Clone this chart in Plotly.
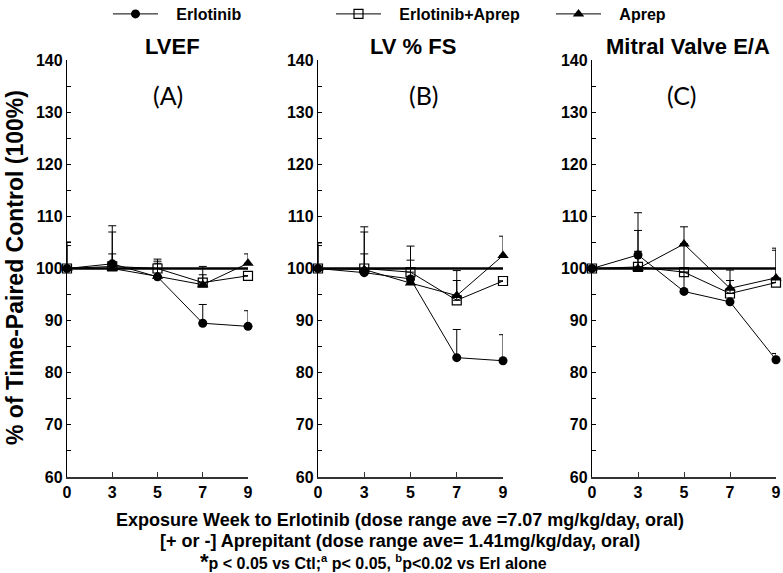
import plotly.graph_objects as go

W, H = 783, 573

weeks = ["0", "3", "5", "7", "9"]
panel_titles = ["LVEF", "LV % FS", "Mitral Valve E/A"]
panel_letters = ["(A)", "(B)", "(C)"]
series_names = ["Erlotinib", "Erlotinib+Aprep", "Aprep"]

# mean values (% of time-paired control)
lvef_erl = [100, 100.9, 98.4, 89.5, 88.9]
lvef_ea = [100, 100.4, 100.0, 97.3, 98.6]
lvef_ap = [100, 100.0, 98.5, 96.9, 101.0]
fs_erl = [100, 99.2, 98.0, 82.9, 82.3]
fs_ea = [100, 100.0, 99.3, 93.9, 97.6]
fs_ap = [100, 99.8, 97.2, 94.8, 102.5]
ea_erl = [100, 102.6, 95.6, 93.6, 82.5]
ea_ea = [100, 100.3, 99.3, 95.2, 97.3]
ea_ap = [100, 100.0, 104.7, 96.2, 98.2]

# upper error-bar ends
lvef_erl_up = [105.1, 108.2, 101.0, 93.1, 91.9]
lvef_ea_up = [104.4, 107.0, 101.8, 98.8, 98.6]
lvef_ap_up = [100, 102.8, 101.4, 100.4, 102.8]
fs_erl_up = [104.9, 108.0, 101.6, 88.3, 87.3]
fs_ea_up = [104.4, 107.0, 104.3, 97.7, 97.6]
fs_ap_up = [100, 102.8, 97.2, 99.6, 106.2]
ea_erl_up = [100, 110.7, 108.0, 93.6, 83.7]
ea_ea_up = [100, 107.3, 99.3, 97.7, 103.5]
ea_ap_up = [100, 103.3, 104.7, 99.7, 103.9]

control = [100, 100, 100, 100, 100]

star_pts = [[3, 4], [3, 4], [4]]
letter_marks = [("b", 4), ("b", 4), ("a", 4)]

panels = [
    (lvef_erl, lvef_ea, lvef_ap, lvef_erl_up, lvef_ea_up, lvef_ap_up),
    (fs_erl, fs_ea, fs_ap, fs_erl_up, fs_ea_up, fs_ap_up),
    (ea_erl, ea_ea, ea_ap, ea_erl_up, ea_ea_up, ea_ap_up),
]

y_ticks = list(range(60, 141, 5))
y_ticktext = [str(v) if v % 10 == 0 else "" for v in y_ticks]


def px(x):
    return x / W


def py(y):
    return 1 - y / H


x_domains = [(67, 248), (318, 503), (592, 776)]
y_dom = (py(477), py(60))
legend_x = [108, 331, 551]
legend_ids = ["legend", "legend2", "legend3"]

ARIAL = "Liberation Sans, Arial, sans-serif"

fig = go.Figure()

symbols = [
    dict(symbol="circle", size=9, color="black"),
    dict(symbol="square-open", size=9, color="black", line=dict(width=1.2, color="black")),
    dict(symbol="triangle-up", size=10, color="black"),
]

PAD = "\u00a0" * 3

for i, p in enumerate(panels):
    xa = "x" if i == 0 else f"x{i+1}"
    ya = "y" if i == 0 else f"y{i+1}"
    means = p[:3]
    ups = p[3:]
    for s in range(3):
        fig.add_trace(go.Scatter(
            x=weeks, y=means[s], xaxis=xa, yaxis=ya,
            mode="lines+markers", name=PAD + series_names[s],
            showlegend=(i == 0), legendgroup=series_names[s], legend=legend_ids[s],
            line=dict(color="black", width=1),
            marker=symbols[s],
            error_y=dict(type="data", symmetric=False,
                         array=[u - m for u, m in zip(ups[s], means[s])],
                         arrayminus=[0] * 5, color="black", thickness=1, width=4),
            cliponaxis=False,
        ))
    fig.add_trace(go.Scatter(
        x=weeks, y=control, xaxis=xa, yaxis=ya, mode="lines",
        line=dict(color="black", width=2.6), showlegend=False, cliponaxis=False,
    ))

layout = dict(
    width=W, height=H, paper_bgcolor="white", plot_bgcolor="white",
    margin=dict(l=0, r=0, t=0, b=0, autoexpand=False),
    showlegend=True,
)
for j, lid in enumerate(legend_ids):
    layout[lid] = dict(orientation="h", x=px(legend_x[j]), y=1 + 3 / H, xanchor="left", yanchor="top",
                       font=dict(family=ARIAL, size=16, color="black", weight="bold"),
                       itemwidth=45, bgcolor="rgba(0,0,0,0)")


def note(text, x, y, size, family=ARIAL, bold=True, **kw):
    f = dict(family=family, size=size, color="black")
    if bold:
        f["weight"] = "bold"
    d = dict(text=text, x=px(x), y=py(y), xref="paper", yref="paper", showarrow=False,
             xanchor="center", yanchor="middle", font=f)
    d.update(kw)
    return d


annotations = []
for i in range(3):
    xk = "xaxis" if i == 0 else f"xaxis{i+1}"
    yk = "yaxis" if i == 0 else f"yaxis{i+1}"
    layout[xk] = dict(
        domain=[px(x_domains[i][0]), px(x_domains[i][1])],
        type="category", range=[0, 4], anchor="y" if i == 0 else f"y{i+1}",
        showline=True, linecolor="#333", linewidth=2, mirror=False,
        ticks="inside", ticklen=5, tickcolor="#333", tickwidth=1,
        showgrid=False, zeroline=False,
        tickfont=dict(family=ARIAL, size=16, color="black", weight="bold"),
    )
    layout[yk] = dict(
        domain=list(y_dom), range=[60, 140], anchor="x" if i == 0 else f"x{i+1}",
        showline=True, linecolor="black", linewidth=1.3,
        tickmode="array", tickvals=y_ticks, ticktext=y_ticktext,
        ticks="inside", ticklen=4, tickcolor="black", tickwidth=1,
        showgrid=False, zeroline=False,
        tickfont=dict(family=ARIAL, size=16, color="black", weight="bold"),
    )
    xr = "x" if i == 0 else f"x{i+1}"
    yr = "y" if i == 0 else f"y{i+1}"
    annotations.append(note(panel_titles[i], [172, 413, 688][i], 46, 22))
    annotations.append(note(panel_letters[i], [168, 424, 682][i], 95, 25,
                            family="Lato, Carlito, sans-serif", bold=False))
    erl = panels[i][0]
    for k in star_pts[i]:
        annotations.append(dict(text="*", x=weeks[k], y=erl[k], xref=xr, yref=yr, yshift=-22,
                                xanchor="center", yanchor="middle",
                                showarrow=False, font=dict(family=ARIAL, size=24, color="black")))
    lt, k = letter_marks[i]
    ea = panels[i][1]
    annotations.append(dict(text=lt, x=weeks[k], y=ea[k], xref=xr, yref=yr, xshift=7, yshift=-16,
                            xanchor="center", yanchor="middle",
                            showarrow=False, font=dict(family=ARIAL, size=13, color="black", weight="bold")))

annotations.append(note("% of Time-Paired Control (100%)", 15, 268, 23, textangle=-90))
annotations.append(note("Exposure Week to Erlotinib (dose range ave =7.07 mg/kg/day, oral)", 400, 520, 18))
annotations.append(note("[+ or -] Aprepitant (dose range ave= 1.41mg/kg/day, oral)", 400, 541, 18))
annotations.append(note("<span style='font-size:22px'>*</span>p < 0.05 vs Ctl;<sup>a</sup> p< 0.05, "
                        "<sup>b</sup>p<0.02 vs Erl alone", 373, 561, 16))

layout["annotations"] = annotations
fig.update_layout(**layout)
fig.write_html("out.html", config={"displayModeBar": False},
               post_script="document.body.style.margin='0';")
